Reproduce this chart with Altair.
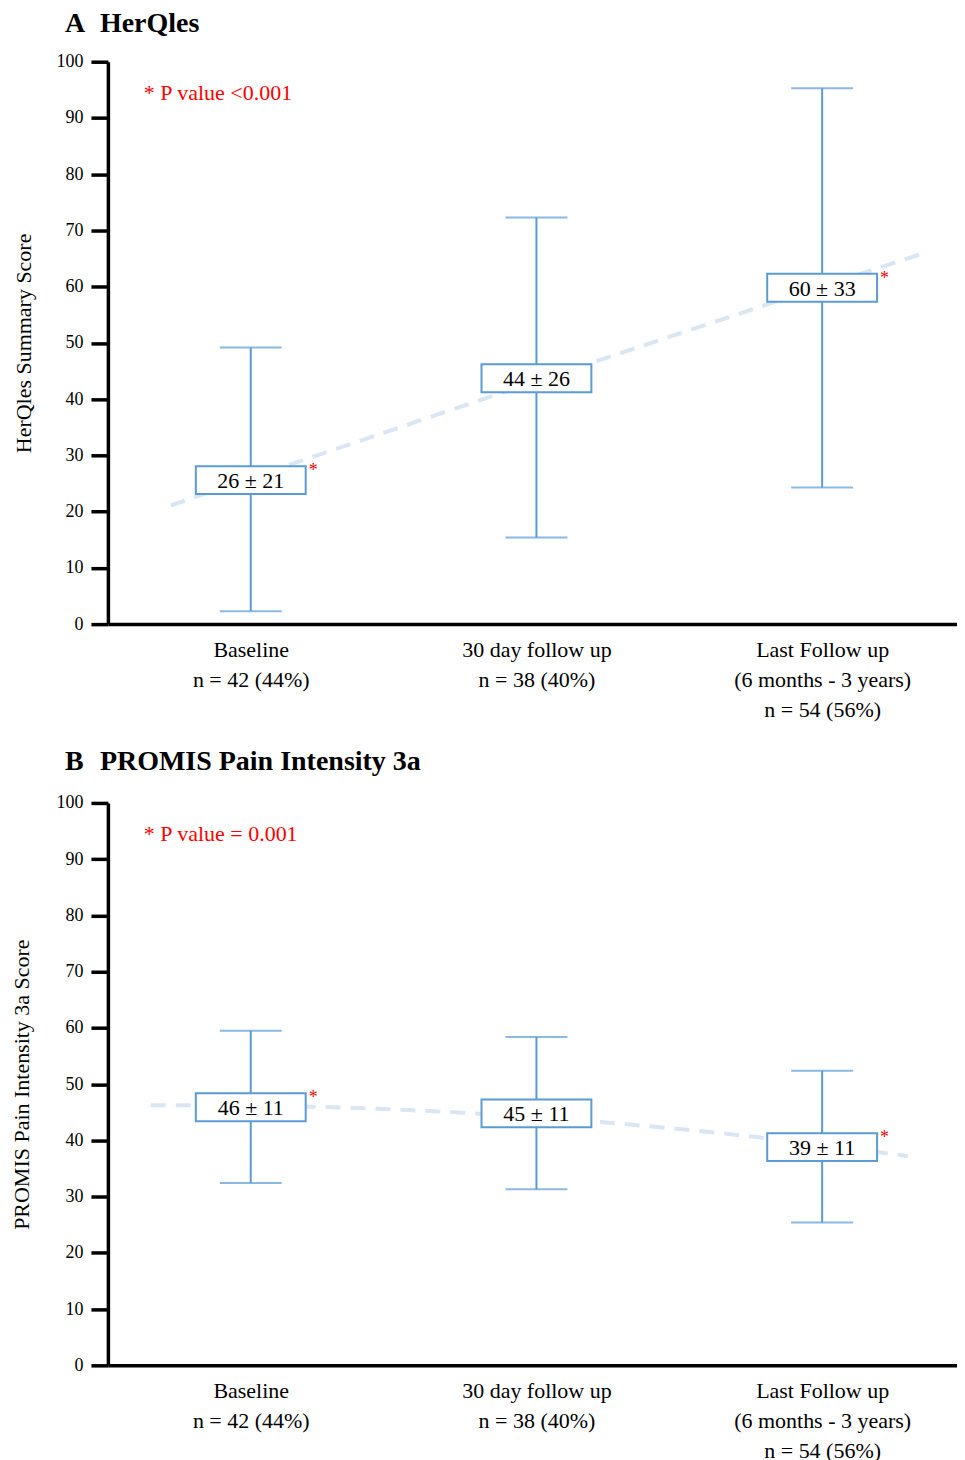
import json
import altair as alt
import pandas as pd

FONT = "Liberation Serif"
BLUE = "#5b9bd5"
TREND = "#dae6f4"

# ---- data ----
cat_pos = [0, 1, 2]
cat_labels = [
    ["Baseline", "n = 42 (44%)"],
    ["30 day follow up", "n = 38 (40%)"],
    ["Last Follow up", "(6 months - 3 years)", "n = 54 (56%)"],
]

a_mean = [25.6, 43.7, 59.8]
a_low = [2.3, 15.4, 24.3]
a_high = [49.2, 72.3, 95.3]
a_text = ["26 ± 21", "44 ± 26", "60 ± 33"]
a_star = ["*", "", "*"]
a_trend_t = [-0.26, 0.32, 1.29, 2.36]
a_trend_v = [21.5, 31.4, 48.2, 66.0]

b_mean = [45.9, 44.8, 38.8]
b_low = [32.4, 31.3, 25.4]
b_high = [59.5, 58.4, 52.4]
b_text = ["46 ± 11", "45 ± 11", "39 ± 11"]
b_star = ["*", "", "*"]
b_trend_t = [-0.38, 0.22, 0.81, 1.20, 1.80, 2.31]
b_trend_v = [46.3, 45.7, 45.0, 43.4, 40.2, 37.2]

UNIT = 286            # pixels per category step
W, H = 850, 563
BOX_W, BOX_H = 110, 28

label_expr = " : ".join(
    f"datum.value == {p} ? {json.dumps(l)}" for p, l in zip(cat_pos[:-1], cat_labels[:-1])
) + f" : {json.dumps(cat_labels[-1])}"

box_path = f"M-1,-{BOX_H / BOX_W:.4f}H1V{BOX_H / BOX_W:.4f}H-1Z"


def panel(letter, title, ytitle, ptext, mean, low, high, text, star,
          trend_t, trend_v, extent, title_pad, title_y):
    df = pd.DataFrame({"t": cat_pos, "mean": mean, "low": low, "high": high,
                       "text": text, "star": star})
    tr = pd.DataFrame({"t": trend_t, "v": trend_v})

    xs = alt.Scale(domain=[-0.5, -0.5 + W / UNIT], nice=False, zero=False)
    ys = alt.Scale(domain=[0, 100], nice=False)

    xaxis = alt.Axis(values=cat_pos, ticks=False, tickSize=0, domainWidth=3.5,
                     domainColor="black", labelExpr=label_expr, labelFont=FONT,
                     labelFontSize=22, labelLineHeight=30, labelPadding=15,
                     labelColor="black", title=None, grid=False)
    yaxis = alt.Axis(values=list(range(0, 101, 10)), tickSize=17, tickWidth=3.5,
                     tickColor="black", domainWidth=3.5, domainColor="black",
                     labelFont=FONT, labelFontSize=18, labelColor="black",
                     labelPadding=8, title=ytitle, titleFont=FONT, titleFontSize=22,
                     titleFontWeight="normal", titleColor="black",
                     titlePadding=title_pad, grid=False)

    base = alt.Chart(df)
    x = alt.X("t:Q", scale=xs, axis=xaxis)
    y = alt.Y("mean:Q", scale=ys, axis=yaxis)

    trend = alt.Chart(tr).transform_regression(
        "t", "v", method="poly", order=2, extent=extent
    ).mark_line(color=TREND, strokeWidth=4, strokeDash=[15, 10]).encode(
        x=alt.X("t:Q", scale=xs, axis=xaxis), y=alt.Y("v:Q", scale=ys, axis=yaxis)
    )
    rule = base.mark_rule(color=BLUE, strokeWidth=2).encode(
        x=x, y=alt.Y("low:Q", scale=ys, axis=yaxis), y2="high:Q")
    cap_lo = base.mark_tick(color=BLUE, size=62, thickness=2, orient="horizontal").encode(
        x=x, y=alt.Y("low:Q", scale=ys, axis=yaxis))
    cap_hi = base.mark_tick(color=BLUE, size=62, thickness=2, orient="horizontal").encode(
        x=x, y=alt.Y("high:Q", scale=ys, axis=yaxis))
    box = base.mark_point(shape=box_path, size=BOX_W * BOX_W, filled=True,
                          fill="white", stroke=BLUE, strokeWidth=2,
                          opacity=1).encode(x=x, y=y)
    lab = base.mark_text(font=FONT, fontSize=22, color="black",
                         baseline="middle", dy=1).encode(x=x, y=y, text="text:N")
    st = base.mark_text(font=FONT, fontSize=18, color="red", baseline="middle",
                        align="left", dx=58, dy=-9).encode(x=x, y=y, text="star:N")

    one = pd.DataFrame({"t": [0]})
    ptxt = alt.Chart(one).mark_text(font=FONT, fontSize=22, color="red",
                                    align="left", baseline="middle").encode(
        x=alt.value(36), y=alt.value(31), text=alt.value(ptext))
    t1 = alt.Chart(one).mark_text(font=FONT, fontSize=28, fontWeight="bold",
                                  color="black", align="left",
                                  baseline="alphabetic").encode(
        x=alt.value(-43), y=alt.value(title_y), text=alt.value(letter))
    t2 = alt.Chart(one).mark_text(font=FONT, fontSize=28, fontWeight="bold",
                                  color="black", align="left",
                                  baseline="alphabetic").encode(
        x=alt.value(-8), y=alt.value(title_y), text=alt.value(title))

    return alt.layer(trend, rule, cap_lo, cap_hi, box, lab, st, ptxt, t1, t2).properties(
        width=W, height=H)


pa = panel("A", "HerQles", "HerQles Summary Score", "* P value <0.001",
           a_mean, a_low, a_high, a_text, a_star, a_trend_t, a_trend_v,
           [-0.28, 2.36], 20, -30)
pb = panel("B", "PROMIS Pain Intensity 3a", "PROMIS Pain Intensity 3a Score",
           "* P value = 0.001",
           b_mean, b_low, b_high, b_text, b_star, b_trend_t, b_trend_v,
           [-0.35, 2.30], 22, -33)

chart = alt.vconcat(pa, pb, spacing=28).properties(
    padding={"left": 3, "top": 1, "right": 0, "bottom": 0},
    background="white",
).configure_view(stroke=None)

chart.save("out.html", embed_options={"renderer": "svg", "actions": False})
